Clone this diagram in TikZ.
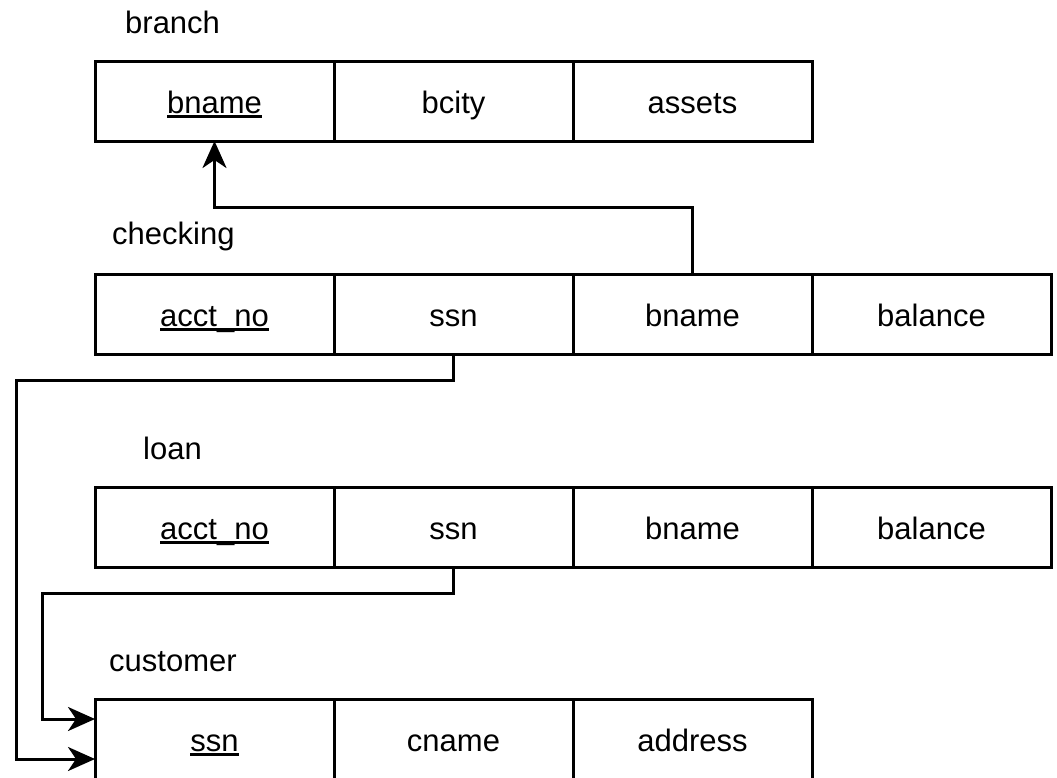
\documentclass[tikz,border=0pt]{standalone}
\usepackage{fontspec}
\setmainfont{Liberation Sans}
\usetikzlibrary{arrows.meta,positioning,calc}
\newcommand\keyattr[1]{\setbox0\hbox{#1}\rlap{\rule[-4.5pt]{\wd0}{3pt}}\box0}
\tikzset{
  cell/.style={draw, line width=3pt, minimum width=239pt, minimum height=80pt,
    inner sep=0pt, outer sep=0pt, text height=25pt, text depth=0pt,
    font=\fontsize{31}{37}\selectfont},
  lbl/.style={inner sep=0pt, font=\fontsize{31}{37}\selectfont},
  conn/.style={line width=3pt, line join=miter,
    -{Stealth[length=27pt,width=24pt,inset=8pt]}},
}
\begin{document}
\begin{tikzpicture}[x=1pt,y=-1pt]
\useasboundingbox (0,0) rectangle (1057,777);
% branch
\node[lbl, anchor=base west] (tbranch) at (125,33) {branch};
\node[cell] (b1) at (214.5,101) {\keyattr{bname}};
\node[cell, right=0pt of b1] (b2) {bcity};
\node[cell, right=0pt of b2] (b3) {assets};
% checking
\node[lbl, anchor=base west] (tchecking) at (112,244) {checking};
\node[cell] (c1) at (214.5,314) {\keyattr{acct\_no}};
\node[cell, right=0pt of c1] (c2) {ssn};
\node[cell, right=0pt of c2] (c3) {bname};
\node[cell, right=0pt of c3] (c4) {balance};
% loan
\node[lbl, anchor=base west] (tloan) at (143,459) {loan};
\node[cell] (l1) at (214.5,527) {\keyattr{acct\_no}};
\node[cell, right=0pt of l1] (l2) {ssn};
\node[cell, right=0pt of l2] (l3) {bname};
\node[cell, right=0pt of l3] (l4) {balance};
% customer
\node[lbl, anchor=base west] (tcustomer) at (109,671) {customer};
\node[cell] (u1) at (214.5,739) {\keyattr{ssn}};
\node[cell, right=0pt of u1] (u2) {cname};
\node[cell, right=0pt of u2] (u3) {address};
% connector end points
\coordinate (inL) at ($(u1.north west)+(0,20)$);
\coordinate (inC) at ($(u1.south west)+(0,-20)$);
% connectors
\draw[conn] (c3.north) -- ++(0,-67) -| (b1.south);
\draw[conn] (c2.south) -- ++(0,26) -| ([xshift=-79pt]inC) -- (inC);
\draw[conn] (l2.south) -- ++(0,26) -| ([xshift=-53pt]inL) -- (inL);
\end{tikzpicture}
\end{document}
